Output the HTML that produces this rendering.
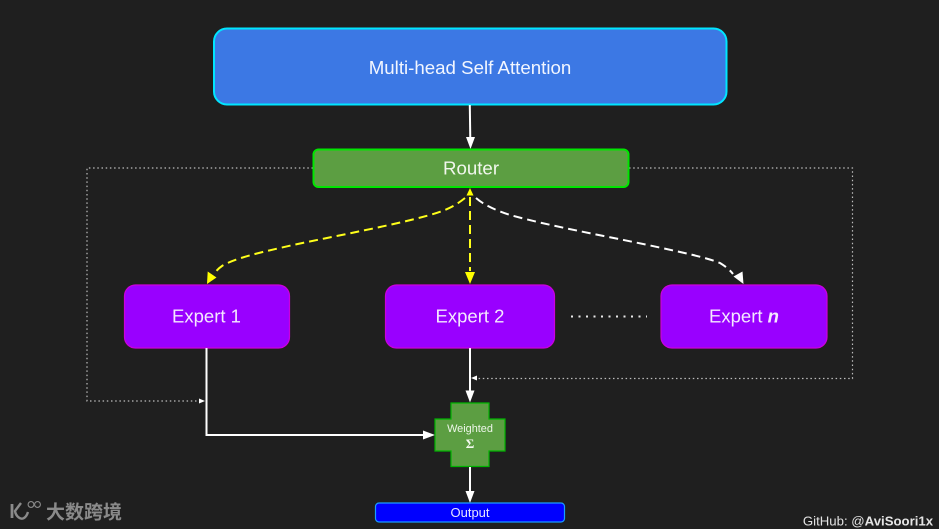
<!DOCTYPE html>
<html>
<head>
<meta charset="utf-8">
<style>
html,body{margin:0;padding:0;background:#1f1f1f;width:939px;height:529px;overflow:hidden}
svg{display:block}
text{font-family:"Liberation Sans",Arial,sans-serif;text-anchor:middle}
</style>
</head>
<body>
<svg width="939" height="529" viewBox="0 0 939 529" xmlns="http://www.w3.org/2000/svg">
<rect width="939" height="529" fill="#1f1f1f"/>

<!-- dotted feedback -->
<path d="M313 168H87V401H198" fill="none" stroke="#bdbdbd" stroke-width="1.2" stroke-dasharray="1.5 2.7"/>
<path d="M629 168H852.500V378.500H478" fill="none" stroke="#bdbdbd" stroke-width="1.2" stroke-dasharray="1.5 2.7"/>
<path d="M205 401L199 398.500V403.500Z" fill="#fff"/>
<path d="M471 378L477 375.500V380.500Z" fill="#fff"/>

<!-- top box -->
<rect x="214" y="28.500" width="512.500" height="76" rx="13" fill="#3c78e4" stroke="#00e5ff" stroke-width="2"/>
<text x="470" y="74" font-size="18.700" fill="#f2f6ff">Multi-head Self Attention</text>

<!-- arrow top to router -->
<path d="M469.800 105L470.300 140" stroke="#fff" stroke-width="2" fill="none"/>
<path d="M470.500 149L466 137H475Z" fill="#fff"/>

<!-- router -->
<rect x="313.500" y="149.500" width="315" height="37.500" rx="5" fill="#5c9e42" stroke="#00e600" stroke-width="2"/>
<text x="471" y="174.500" font-size="18.700" fill="#f2f7ee">Router</text>

<!-- dashed curves -->
<path d="M465 198C455 206 447 210 430 215C390 226 340 235 293 245C262 252 235 258 222 266C219 268 216 271 214 274" fill="none" stroke="#ffff1a" stroke-width="2" stroke-dasharray="9 5"/>
<path d="M207 284L207.700 271.500L216.500 277.500Z" fill="#ffff00"/>
<path d="M470 197V271" fill="none" stroke="#ffff1a" stroke-width="2" stroke-dasharray="9 5"/>
<path d="M470 284L465 272H475Z" fill="#ffff00"/>
<path d="M470 188L466.500 195.500H473.500Z" fill="#ffff00"/>
<path d="M476 198C484 205 495 210 510 215C550 226 600 235 648 245C680 252 705 257 720 263C725 266 730 270 733 274" fill="none" stroke="#fff" stroke-width="2" stroke-dasharray="9 5"/>
<path d="M743.500 284L733.500 276.500L742.500 271.500Z" fill="#fff"/>

<!-- experts -->
<rect x="124.500" y="285" width="165" height="63" rx="11" fill="#9900ff" stroke="#cc00dd" stroke-width="1.200"/>
<text x="206.500" y="322.500" font-size="18.500" fill="#f4e8ff">Expert 1</text>
<rect x="385.500" y="285" width="169" height="63" rx="11" fill="#9900ff" stroke="#cc00dd" stroke-width="1.200"/>
<text x="470" y="322.500" font-size="18.500" fill="#f4e8ff">Expert 2</text>
<rect x="661" y="285" width="166" height="63" rx="11" fill="#9900ff" stroke="#cc00dd" stroke-width="1.200"/>
<text x="744" y="322.500" font-size="18.500" fill="#f4e8ff">Expert <tspan font-weight="bold" font-style="italic">n</tspan></text>

<!-- dots between -->
<path d="M571 316.500H647" stroke="#e8e8e8" stroke-width="2" stroke-dasharray="2 5.500" fill="none"/>

<!-- flows to sum -->
<path d="M206.500 348V435H424" fill="none" stroke="#fff" stroke-width="2"/>
<path d="M435 435L423 430.500V439.500Z" fill="#fff"/>
<path d="M470 348V392" fill="none" stroke="#fff" stroke-width="2"/>
<path d="M470 402.500L465.500 390.500H474.500Z" fill="#fff"/>

<!-- sum cross -->
<path d="M451 403H489V419H505V451H489V466.500H451V451H435V419H451Z" fill="#5c9e42" stroke="#00b400" stroke-width="1.200"/>
<text x="470" y="432" font-size="10.900" fill="#eef6ea">Weighted</text>
<text x="470" y="448" font-size="13" fill="#f4f9f0" font-weight="bold" style="font-family:'Liberation Serif',serif">Σ</text>

<!-- to output -->
<path d="M470 467V492" fill="none" stroke="#fff" stroke-width="2"/>
<path d="M470 503L465.500 491H474.500Z" fill="#fff"/>

<!-- output -->
<rect x="375.500" y="503" width="189" height="19" rx="3.500" fill="#0000ff" stroke="#1a9cff" stroke-width="1.200"/>
<text x="470" y="517" font-size="13" fill="#e6e6ff">Output</text>

<!-- watermark logo -->
<g fill="none" stroke="#8a8a8a">
<path d="M12 504V518" stroke-width="2.800"/>
<path d="M21 503L15 511C16 517 21 520 24 518C26 517 27 515 28 512" stroke-width="2.400"/>
<circle cx="31" cy="504.500" r="2.900" stroke-width="1.100"/>
<circle cx="37.500" cy="504.500" r="2.900" stroke-width="1.100"/>
</g>
<text x="84" y="518.500" font-size="19" fill="#8a8a8a" font-weight="bold" style="font-family:'Liberation Sans','Noto Sans CJK SC',sans-serif">大数跨境</text>

<!-- credit -->
<text x="868" y="525.500" font-size="13.200" fill="#e4e4e4">GitHub: @<tspan font-weight="bold">AviSoori1x</tspan></text>
</svg>
</body>
</html>
